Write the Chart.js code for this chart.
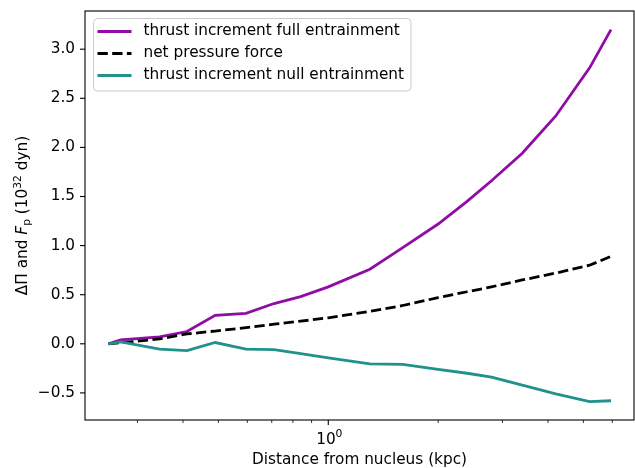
<!DOCTYPE html>
<html>
<head>
<meta charset="utf-8">
<script src="https://cdn.jsdelivr.net/npm/chart.js@4.4.1/dist/chart.umd.min.js"></script>
<style>
  html, body { margin: 0; padding: 0; background: #fff; }
  #wrap { width: 635px; height: 468px; }
</style>
</head>
<body>
<div id="wrap"><canvas id="forceChart" width="635" height="468"></canvas></div>
<script>
// values (x in kpc, y in 1e32 dyn)
const distance = [0.25, 0.27, 0.345, 0.41, 0.49, 0.595, 0.71, 0.84, 1.0, 1.3, 1.6, 2.0, 2.4, 2.8, 3.4, 4.2, 5.2, 5.95];
const thrustFull = [0.0, 0.04, 0.07, 0.125, 0.29, 0.31, 0.41, 0.48, 0.58, 0.76, 0.98, 1.22, 1.45, 1.66, 1.94, 2.32, 2.81, 3.2];
const pressureForce = [0.0, 0.01, 0.05, 0.10, 0.13, 0.165, 0.20, 0.23, 0.265, 0.33, 0.39, 0.47, 0.53, 0.58, 0.65, 0.72, 0.80, 0.89];
const thrustNull = [0.0, 0.02, -0.054, -0.07, 0.013, -0.054, -0.06, -0.10, -0.143, -0.204, -0.21, -0.26, -0.30, -0.34, -0.42, -0.51, -0.588, -0.58];

const yTicks = [-0.5, 0.0, 0.5, 1.0, 1.5, 2.0, 2.5, 3.0];
const xMajorTicks = [1];
const xMinorTicks = [0.3, 0.4, 0.5, 0.6, 0.7, 0.8, 0.9, 2, 3, 4, 5, 6];

const seriesLabels = ['thrust increment full entrainment', 'net pressure force', 'thrust increment null entrainment'];

const FONT = 'DejaVu Sans';
const FS = 15.3;

function toPoints(ys) {
    return distance.map(function(x, i) { return { x: x, y: ys[i] }; });
}

function font(size, style) {
    return (style ? style + ' ' : '') + size + 'px "' + FONT + '"';
}

// draw a run of text pieces (normal / italic / sub / sup) centred on 0
function drawPieces(ctx, parts) {
    let total = 0;
    parts.forEach(function(p) { ctx.font = p.f; p.w = ctx.measureText(p.t).width; total += p.w; });
    let cx = -total / 2;
    parts.forEach(function(p) {
        ctx.font = p.f;
        ctx.fillText(p.t, cx, p.dy);
        cx += p.w;
    });
}

// frame, tick marks, titles and legend drawn on top, matplotlib style
const decorPlugin = {
    id: 'decor',
    afterDraw: function(chart) {
        const ctx = chart.ctx;
        const a = chart.chartArea;
        const xs = chart.scales.x;
        const ys = chart.scales.y;
        ctx.save();

        // ticks
        ctx.strokeStyle = '#000';
        ctx.lineWidth = 1.1;
        xMajorTicks.forEach(function(v) {
            const px = xs.getPixelForValue(v);
            ctx.beginPath(); ctx.moveTo(px, a.bottom); ctx.lineTo(px, a.bottom + 5); ctx.stroke();
        });
        ctx.lineWidth = 0.8;
        xMinorTicks.forEach(function(v) {
            const px = xs.getPixelForValue(v);
            ctx.beginPath(); ctx.moveTo(px, a.bottom); ctx.lineTo(px, a.bottom + 3); ctx.stroke();
        });
        ctx.lineWidth = 1.1;
        yTicks.forEach(function(v) {
            const py = ys.getPixelForValue(v);
            ctx.beginPath(); ctx.moveTo(a.left, py); ctx.lineTo(a.left - 5, py); ctx.stroke();
        });

        // frame
        ctx.strokeRect(a.left, a.top, a.right - a.left, a.bottom - a.top);

        // x major tick label 10^0
        ctx.fillStyle = '#000';
        ctx.textBaseline = 'alphabetic';
        xMajorTicks.forEach(function(v) {
            ctx.save();
            ctx.translate(xs.getPixelForValue(v) + 1, a.bottom + 24);
            drawPieces(ctx, [
                { t: '10', f: font(FS), dy: 0 },
                { t: String(Math.round(Math.log10(v))), f: font(FS * 0.7), dy: -7 }
            ]);
            ctx.restore();
        });

        // y title: ΔΠ and F_p (10^32 dyn)
        ctx.translate(22, (a.top + a.bottom) / 2);
        ctx.rotate(-Math.PI / 2);
        drawPieces(ctx, [
            { t: 'ΔΠ and ', f: font(FS), dy: 5 },
            { t: 'F', f: font(FS, 'italic'), dy: 5 },
            { t: 'p', f: font(FS * 0.7), dy: 8 },
            { t: ' (10', f: font(FS), dy: 5 },
            { t: '32', f: font(FS * 0.7), dy: -1.5 },
            { t: ' dyn)', f: font(FS), dy: 5 }
        ]);
        ctx.restore();

        // legend
        ctx.save();
        const lx = 93.5, ly = 18.5, lw = 317.5, lh = 72.5, r = 4;
        ctx.beginPath();
        ctx.moveTo(lx + r, ly);
        ctx.arcTo(lx + lw, ly, lx + lw, ly + lh, r);
        ctx.arcTo(lx + lw, ly + lh, lx, ly + lh, r);
        ctx.arcTo(lx, ly + lh, lx, ly, r);
        ctx.arcTo(lx, ly, lx + lw, ly, r);
        ctx.closePath();
        ctx.fillStyle = 'rgba(255,255,255,0.8)';
        ctx.fill();
        ctx.strokeStyle = '#cccccc';
        ctx.lineWidth = 1;
        ctx.stroke();
        chart.data.datasets.forEach(function(ds, i) {
            const rowY = 31.5 + i * 22;
            ctx.strokeStyle = ds.borderColor;
            ctx.lineWidth = ds.borderWidth;
            ctx.setLineDash(ds.borderDash || []);
            ctx.beginPath(); ctx.moveTo(97.5, rowY); ctx.lineTo(131.5, rowY); ctx.stroke();
            ctx.setLineDash([]);
            ctx.fillStyle = '#000';
            ctx.font = font(FS);
            ctx.textBaseline = 'middle';
            ctx.fillText(ds.label, 143.5, rowY);
        });
        ctx.restore();
    }
};

document.addEventListener('DOMContentLoaded', function() {
    const ctx = document.getElementById('forceChart');
    new Chart(ctx, {
        type: 'line',
        data: {
            datasets: [{
                label: seriesLabels[0],
                data: toPoints(thrustFull),
                borderColor: '#8f0da4',
                borderWidth: 2.8,
                pointRadius: 0,
                order: 3
            }, {
                label: seriesLabels[1],
                data: toPoints(pressureForce),
                borderColor: '#000000',
                borderWidth: 2.8,
                borderDash: [10.3, 4.4],
                pointRadius: 0,
                order: 2
            }, {
                label: seriesLabels[2],
                data: toPoints(thrustNull),
                borderColor: '#21918c',
                borderWidth: 2.8,
                pointRadius: 0,
                order: 1
            }]
        },
        options: {
            responsive: false,
            animation: false,
            layout: { padding: { top: 11, right: 1, left: 0, bottom: 0 } },
            plugins: {
                legend: { display: false },
                tooltip: { enabled: false }
            },
            scales: {
                x: {
                    type: 'logarithmic',
                    min: 0.2155,
                    max: 6.88,
                    afterBuildTicks: function(scale) {
                        scale.ticks = xMajorTicks.concat(xMinorTicks).sort(function(p, q) { return p - q; })
                            .map(function(v) { return { value: v }; });
                    },
                    afterFit: function(scale) {
                        scale.height = 48;
                        scale.paddingLeft = 0;
                        scale.paddingRight = 0;
                    },
                    grid: { display: false, drawTicks: false },
                    border: { display: false },
                    ticks: {
                        autoSkip: false,
                        maxRotation: 0,
                        callback: function() { return ''; }
                    },
                    title: {
                        display: true,
                        text: 'Distance from nucleus (kpc)',
                        color: '#000',
                        font: { family: FONT, size: FS, lineHeight: 1.0 },
                        padding: { top: 0, bottom: 0 }
                    }
                },
                y: {
                    type: 'linear',
                    min: -0.776,
                    max: 3.389,
                    afterBuildTicks: function(scale) {
                        scale.ticks = yTicks.map(function(v) { return { value: v }; });
                    },
                    afterFit: function(scale) {
                        scale.width = 85;
                        scale.paddingTop = 0;
                        scale.paddingBottom = 0;
                    },
                    grid: { display: false, drawTicks: false },
                    border: { display: false },
                    ticks: {
                        padding: 10,
                        color: '#000',
                        font: { family: FONT, size: FS },
                        callback: function(v) { return v.toFixed(1).replace('-', '\u2212'); }
                    }
                }
            }
        },
        plugins: [decorPlugin]
    });
});
</script>
</body>
</html>
